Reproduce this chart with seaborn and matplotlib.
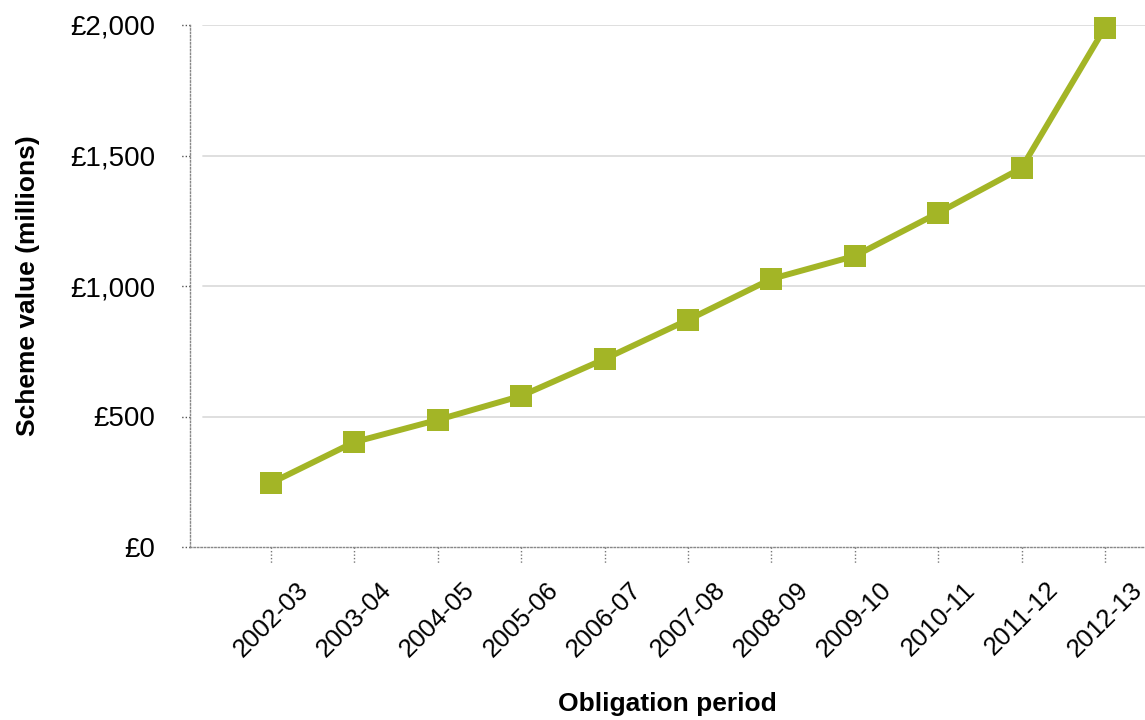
import pandas as pd
import seaborn as sns
import numpy as np
import matplotlib.pyplot as plt
from matplotlib.ticker import FuncFormatter

# data
periods = ['2002-03', '2003-04', '2004-05', '2005-06', '2006-07', '2007-08',
           '2008-09', '2009-10', '2010-11', '2011-12', '2012-13']
values = [245, 402, 487, 579, 720, 870, 1027, 1115, 1280, 1452, 1990]
yticks = [0, 500, 1000, 1500, 2000]

df = pd.DataFrame({'period': periods, 'value': values})

sns.set_style('white')
plt.rcParams['font.family'] = ['Liberation Sans', 'DejaVu Sans']
plt.rcParams['text.color'] = 'black'
plt.rcParams['axes.labelcolor'] = 'black'

fig = plt.figure(figsize=(11.45, 7.2), dpi=100)
ax = fig.add_axes([190 / 1145, 1 - 547 / 720, (1145 - 190) / 1145, (547 - 25) / 720])

sns.lineplot(data=df, x='period', y='value', ax=ax, color='#A3B526',
             linewidth=4.3, marker='s', markersize=16, markeredgewidth=0,
             sort=False, clip_on=False, zorder=5)

ax.set_ylim(0, 2000)
ax.set_xlim(-0.97, 10.48)
ax.set_yticks(yticks)
ax.yaxis.set_major_formatter(FuncFormatter(lambda v, p: '£{:,.0f}'.format(v)))

# grid lines that stop short of the y axis
for t in yticks[1:]:
    ax.axhline(t, xmin=0.014, xmax=1, color='#dcdcdc', linewidth=1.3, zorder=0)

for side in ['top', 'right']:
    ax.spines[side].set_visible(False)
for side in ['left', 'bottom']:
    ax.spines[side].set_linestyle((0, (1, 1.5)))
    ax.spines[side].set_color('#888888')
    ax.spines[side].set_linewidth(1)

# dotted tick marks drawn by hand (tick markers can't be dotted)
xtr = ax.get_xaxis_transform()
for xt in ax.get_xticks():
    ax.plot([xt, xt], [0, -16 / 522], transform=xtr, clip_on=False,
            color='#777777', linewidth=1, linestyle=(0, (1, 1.5)))
ytr = ax.get_yaxis_transform()
for yt in yticks:
    ax.plot([0, -10 / 955], [yt, yt], transform=ytr, clip_on=False,
            color='#555555', linewidth=1, linestyle=(0, (1, 1.5)))

ax.tick_params(axis='y', left=False, length=0, labelcolor='black',
               labelsize=20, pad=25)
ax.tick_params(axis='x', bottom=False, length=0, labelcolor='black',
               labelsize=18.5, pad=22)
plt.setp(ax.get_xticklabels(), rotation=45, ha='center', va='top')

ax.set_xlabel('Obligation period', fontsize=19, fontweight='bold', labelpad=22)
ax.set_ylabel('Scheme value (millions)', fontsize=19, fontweight='bold', labelpad=22)

plt.savefig('out.png', dpi=100)
